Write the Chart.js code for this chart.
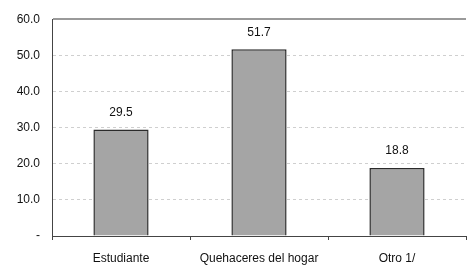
<!DOCTYPE html>
<html>
<head>
<meta charset="utf-8">
<script src="https://cdn.jsdelivr.net/npm/chart.js@4/dist/chart.umd.min.js"></script>
<style>
  html, body { margin: 0; padding: 0; background: #fff; }
  #wrap { width: 467px; height: 266px; }
</style>
</head>
<body>
<div id="wrap"><canvas id="grafico"></canvas></div>
<script>
const categorias = ['Estudiante', 'Quehaceres del hogar', 'Otro 1/'];
const valores = [29.5, 51.7, 18.8];
const ticksY = [0, 10, 20, 30, 40, 50, 60];

Chart.defaults.font.family = '"Liberation Sans", Arial, sans-serif';
Chart.defaults.font.size = 12;
Chart.defaults.color = '#111';

// etiquetas encima de cada barra
const etiquetas = {
    id: 'etiquetas',
    afterDatasetsDraw(chart) {
        const { ctx } = chart;
        const meta = chart.getDatasetMeta(0);
        ctx.save();
        ctx.font = '12px "Liberation Sans", Arial, sans-serif';
        ctx.fillStyle = '#111';
        ctx.textAlign = 'center';
        ctx.textBaseline = 'middle';
        meta.data.forEach((bar, i) => {
            ctx.fillText(valores[i].toFixed(1), bar.x, bar.y - 17);
        });
        ctx.restore();
    }
};

new Chart(document.getElementById('grafico'), {
    type: 'bar',
    data: {
        labels: categorias,
        datasets: [{
            data: valores,
            backgroundColor: '#a5a5a5',
            borderColor: '#2b2b2b',
            borderWidth: 1.5,
            barPercentage: 0.4,
            categoryPercentage: 1
        }]
    },
    options: {
        responsive: true,
        maintainAspectRatio: false,
        animation: false,
        layout: { padding: { top: 17, right: 1, left: 0, bottom: 0 } },
        plugins: { legend: { display: false }, tooltip: { enabled: false } },
        scales: {
            x: {
                afterFit: scale => { scale.height = 30; },
                grid: {
                    offset: true,
                    drawOnChartArea: false,
                    drawTicks: true,
                    tickLength: 4,
                    color: '#444'
                },
                border: { color: '#444', width: 1 },
                ticks: { padding: 11, maxRotation: 0 }
            },
            y: {
                min: 0,
                max: 60,
                afterFit: scale => { scale.width = 52; },
                afterBuildTicks: scale => { scale.ticks = ticksY.map(v => ({ value: v })); },
                ticks: {
                    padding: 12,
                    callback: v => v === 0 ? '-' : v.toFixed(1)
                },
                grid: {
                    drawTicks: false,
                    color: ctx => ctx.tick && ctx.tick.value === 60 ? '#9a9a9a' : (ctx.tick && ctx.tick.value === 0 ? 'rgba(0,0,0,0)' : '#cfcfcf'),
                    lineWidth: ctx => ctx.tick && ctx.tick.value === 60 ? 2 : 1
                },
                border: {
                    color: '#444',
                    width: 1,
                    dash: ctx => ctx.tick && ctx.tick.value === 60 ? [] : [3, 3]
                }
            }
        }
    },
    plugins: [etiquetas]
});
</script>
</body>
</html>
